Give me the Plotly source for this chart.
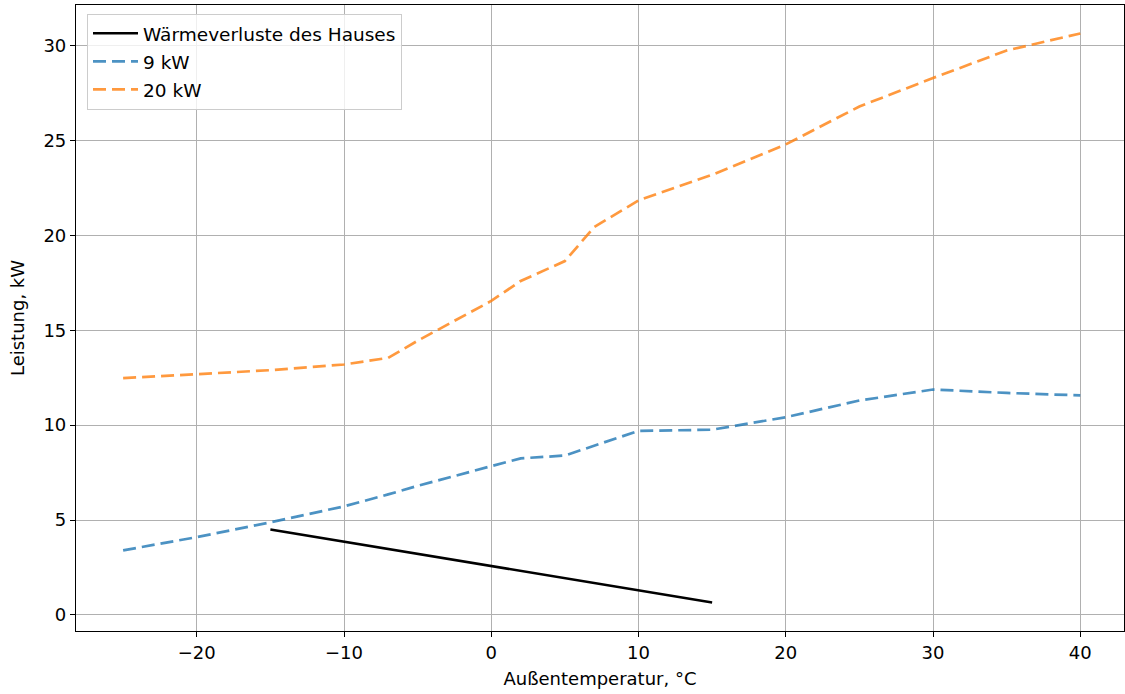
import plotly.graph_objects as go

# Data
temp_house = [-15, 15]
loss_house = [4.5, 0.65]

temps = [-25, -20, -15, -10, -7, -5, 0, 2, 5, 7, 10, 15, 20, 25, 30, 35, 40]
power_9kw = [3.40, 4.10, 4.88, 5.72, 6.35, 6.80, 7.84, 8.25, 8.40, 8.92, 9.70, 9.76,
             10.42, 11.30, 11.88, 11.70, 11.57]
power_20kw = [12.48, 12.68, 12.90, 13.20, 13.55, 14.45, 16.55, 17.60, 18.65, 20.45, 21.85,
              23.20, 24.80, 26.80, 28.30, 29.75, 30.65]

x_ticks = [-20, -10, 0, 10, 20, 30, 40]
y_ticks = [0, 5, 10, 15, 20, 25, 30]

FONT = "DejaVu Sans"
FS = 18

fig = go.Figure()
fig.add_trace(go.Scatter(x=temp_house, y=loss_house, mode="lines",
                         name="Wärmeverluste des Hauses", legendgroup="a",
                         line=dict(color="black", width=2.5)))
fig.add_trace(go.Scatter(x=temps, y=power_9kw, mode="lines", name="9 kW", legendgroup="b",
                         line=dict(color="rgba(31,119,180,0.8)", width=2.7, dash="13px,6px")))
fig.add_trace(go.Scatter(x=temps, y=power_20kw, mode="lines", name="20 kW", legendgroup="c",
                         line=dict(color="rgba(255,127,14,0.8)", width=2.7, dash="13px,6px")))

axis_common = dict(showline=True, mirror=True, linecolor="black", linewidth=1.2,
                   ticks="outside", ticklen=5, tickcolor="black", tickwidth=1.2,
                   showgrid=True, gridcolor="#b0b0b0", gridwidth=1.2, zeroline=False,
                   tickfont=dict(family=FONT, size=FS, color="black"))

fig.update_layout(
    width=1125, height=694,
    margin=dict(l=76, r=1, t=5, b=63),
    paper_bgcolor="white", plot_bgcolor="white",
    font=dict(family=FONT, size=FS, color="black"),
    xaxis=dict(range=[-28.2, 42.97], tickvals=x_ticks,
               title=dict(text="Außentemperatur, °C", font=dict(family=FONT, size=FS), standoff=10),
               **axis_common),
    yaxis=dict(range=[-0.85, 32.15], tickvals=y_ticks,
               title=dict(text="Leistung, kW", font=dict(family=FONT, size=FS), standoff=14),
               **axis_common),
    legend=dict(x=0.0105, y=0.986, xanchor="left", yanchor="top",
                bgcolor="rgba(255,255,255,0.8)", bordercolor="#cccccc", borderwidth=1,
                font=dict(family=FONT, size=18.5, color="black"),
                itemwidth=45,
                traceorder="grouped", tracegroupgap=1),
    showlegend=True,
)

fig.write_html("out.html", config={"displayModeBar": False},
               post_script="document.body.style.margin='0';document.body.style.overflow='hidden';")
